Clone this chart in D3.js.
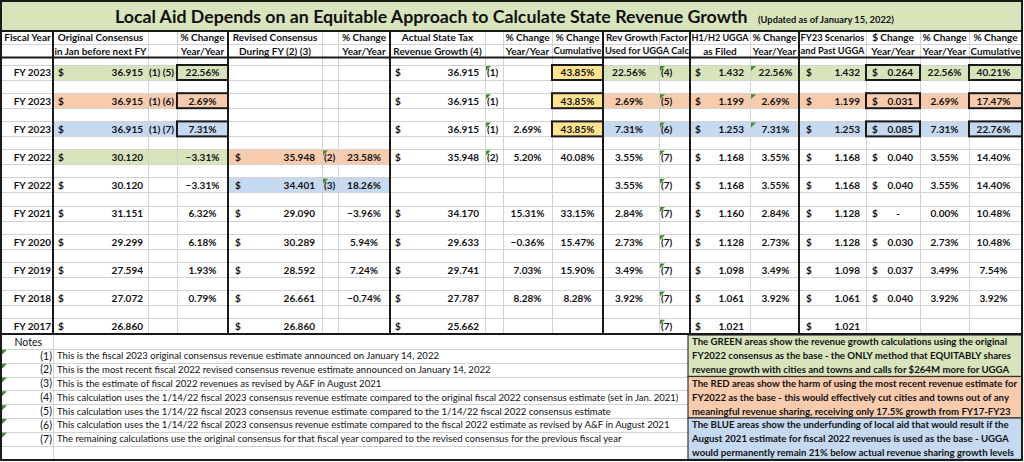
<!DOCTYPE html>
<html><head><meta charset="utf-8">
<script src="https://cdn.jsdelivr.net/npm/d3@7"></script>
<style>
body{margin:0;background:#fff}
svg{display:block}
text{font-family:Lato,"Open Sans",sans-serif;fill:#111}
</style>
</head><body>
<svg id="c" width="1024" height="462"></svg>
<script>
// ---------------- DATA ----------------
const titleMain = "Local Aid Depends on an Equitable Approach to Calculate State Revenue Growth";
const titleSub = "(Updated as of January 15, 2022)";
const fiscalYears = ["FY 2023","FY 2023","FY 2023","FY 2022","FY 2022","FY 2021","FY 2020","FY 2019","FY 2018","FY 2017"];
const origConsensus = [36.915,36.915,36.915,30.120,30.120,31.151,29.299,27.594,27.072,26.860];
const origNotes = ["(1) (5)","(1) (6)","(1) (7)","","","","","","",""];
const origChange = [22.56,2.69,7.31,-3.31,-3.31,6.32,6.18,1.93,0.79,null];
const revisedConsensus = [null,null,null,35.948,34.401,29.090,30.289,28.592,26.661,26.860];
const revisedNotes = ["","","","(2)","(3)","","","","",""];
const revisedChange = [null,null,null,23.58,18.26,-3.96,5.94,7.24,-0.74,null];
const actualRevenue = [36.915,36.915,36.915,35.948,null,34.170,29.633,29.741,27.787,25.662];
const actualNotes = ["(1)","(1)","(1)","(2)","","","","","",""];
const actualYoY = [null,null,2.69,5.20,null,15.31,-0.36,7.03,8.28,null];
const actualCum = [43.85,43.85,43.85,40.08,null,33.15,15.47,15.90,8.28,null];
const revGrowthFactor = [22.56,2.69,7.31,3.55,3.55,2.84,2.73,3.49,3.92,null];
const revGrowthNotes = ["(4)","(5)","(6)","(7)","(7)","(7)","(7)","(7)","(7)","(7)"];
const uggaFiled = [1.432,1.199,1.253,1.168,1.168,1.160,1.128,1.098,1.061,1.021];
const uggaChange = [22.56,2.69,7.31,3.55,3.55,2.84,2.73,3.49,3.92,null];
const fy23Ugga = [1.432,1.199,1.253,1.168,1.168,1.128,1.128,1.098,1.061,1.021];
const dollarChange = [0.264,0.031,0.085,0.040,0.040,0,0.030,0.037,0.040,null];
const fy23Change = [22.56,2.69,7.31,3.55,3.55,0.00,2.73,3.49,3.92,null];
const fy23Cum = [40.21,17.47,22.76,14.40,14.40,10.48,10.48,7.54,3.92,null];
// scenario tags (which colour story each row belongs to)
const origScenario = ["GREEN","RED","BLUE","GREEN",null,null,null,null,null,null];
const revisedScenario = [null,null,null,"RED","BLUE",null,null,null,null,null];
const rightScenario = ["GREEN","RED","BLUE",null,null,null,null,null,null,null];
const scenarios = ["GREEN","RED","BLUE"];
const headers = [
  ["fy","Fiscal Year",""],
  ["oc","Original Consensus","in Jan before next FY"],
  ["ocp","% Change","Year/Year"],
  ["rc","Revised Consensus","During FY (2) (3)"],
  ["rcp","% Change","Year/Year"],
  ["ac","Actual State Tax","Revenue Growth (4)"],
  ["acy","% Change","Year/Year"],
  ["acc","% Change","Cumulative"],
  ["rg","Rev Growth Factor","Used for UGGA Calc"],
  ["ug","H1/H2 UGGA","as Filed"],
  ["ugp","% Change","Year/Year"],
  ["f23","FY23 Scenarios","and Past UGGA"],
  ["dc","$ Change","Year/Year"],
  ["fp","% Change","Year/Year"],
  ["fc","% Change","Cumulative"]
];
const noteLabels = ["(1)","(2)","(3)","(4)","(5)","(6)","(7)"];
const noteTexts = [
  "This is the fiscal 2023 original consensus revenue estimate announced on January 14, 2022",
  "This is the most recent fiscal 2022 revised consensus revenue estimate announced on January 14, 2022",
  "This is the estimate of fiscal 2022 revenues as revised by A&F in August 2021",
  "This calculation uses the 1/14/22 fiscal 2023 consensus revenue estimate compared to the original fiscal 2022 consensus estimate (set in Jan. 2021)",
  "This calculation uses the 1/14/22 fiscal 2023 consensus revenue estimate compared to the 1/14/22 fiscal 2022 consensus estimate",
  "This calculation uses the 1/14/22 fiscal 2023 consensus revenue estimate compared to the fiscal 2022 estimate as revised by A&F in August 2021",
  "The remaining calculations use the original consensus for that fiscal year compared to the revised consensus for the previous fiscal year"
];
const boxTexts = [
  ["The GREEN areas show the revenue growth calculations using the original","FY2022 consensus as the base - the ONLY method that EQUITABLY shares","revenue growth with cities and towns and calls for $264M more for UGGA"],
  ["The RED areas show the harm of using the most recent revenue estimate for","FY2022 as the base - this would effectively cut cities and towns out of any","meaningful revenue sharing, receiving only 17.5% growth from FY17-FY23"],
  ["The BLUE areas show the underfunding of local aid that would result if the","August 2021 estimate for fiscal 2022 revenues is used as the base - UGGA","would permanently remain 21% below actual revenue sharing growth levels"]
];

// ---------------- LAYOUT ----------------
const W = 1024, H = 462;
const colKeys = ["fy","oc","ocn","ocp","rc","rcn","rcp","ac","acn","acy","acc","rg","rgn","ug","ugp","f23","dc","fp","fc"];
const colEdges = [2,53,148,177,228,322,338,390,485,503,552,603,659,690,750,799,866,920,969,1022];
const x0 = d3.scaleOrdinal().domain(colKeys).range(colEdges.slice(0,-1));
const x1 = d3.scaleOrdinal().domain(colKeys).range(colEdges.slice(1));
const thickKeys = ["oc","rc","ac","rg","ug","f23"];
const headerSpan = {fy:["fy","fy"],oc:["oc","oc"],ocp:["ocp","ocp"],rc:["rc","rc"],rcp:["rcp","rcp"],ac:["ac","ac"],acy:["acy","acy"],acc:["acc","acc"],rg:["rg","rgn"],ug:["ug","ug"],ugp:["ugp","ugp"],f23:["f23","f23"],dc:["dc","dc"],fp:["fp","fp"],fc:["fc","fc"]};

const rows = d3.range(fiscalYears.length);
const y = d3.scaleBand().domain(rows).range([59, 341]);
const cellTop = i => y(i) + 6, cellH = 15, cy = i => y(i) + 13.7;
const noteY = d3.scaleBand().domain(d3.range(9)).range([335, 459.5]);
const color = d3.scaleOrdinal().domain(scenarios).range(["#d8e4bc","#f8cbad","#c5d9f1"]);
const yellow = "#ffe38f";
const fmt3 = d3.format(".3f");
const fmtP = v => d3.format(".2f")(v) + "%";

const svg = d3.select("#c");
svg.append("rect").attr("width",W).attr("height",H).attr("fill","#fff");

// title band
svg.append("rect").attr("x",1).attr("y",1).attr("width",1021).attr("height",30).attr("fill","#d8e4bc");

// fills
const gFill = svg.append("g");
function fillCells(scen, k0, k1) {
  gFill.selectAll(null).data(rows.filter(i => scen[i])).join("rect")
    .attr("x", i => x0(k0)).attr("width", i => x1(k1) - x0(k0))
    .attr("y", cellTop).attr("height", cellH)
    .attr("fill", i => color(scen[i]));
}
fillCells(origScenario, "oc", "ocp");
fillCells(revisedScenario, "rc", "rcp");
fillCells(rightScenario, "rg", "fc");
const fy23Rows = rows.filter(i => fiscalYears[i] === "FY 2023");
gFill.selectAll(null).data(fy23Rows).join("rect")
  .attr("x", x0("acc")).attr("width", x1("acc")-x0("acc"))
  .attr("y", cellTop).attr("height", cellH).attr("fill", yellow);

// gridlines
const grid = svg.append("g").attr("stroke","#d2d2d2").attr("stroke-width",1).attr("shape-rendering","crispEdges");
const hLines = [];
rows.forEach(i => { hLines.push(cellTop(i)); hLines.push(cellTop(i)+cellH); });
grid.selectAll(null).data(hLines).join("line")
  .attr("x1",2).attr("x2",1021).attr("y1",d=>d).attr("y2",d=>d);
grid.append("line").attr("x1",2).attr("x2",1021).attr("y1",44).attr("y2",44);
grid.selectAll(null).data(colKeys.slice(1)).join("line")
  .attr("x1",k=>x0(k)+0.5).attr("x2",k=>x0(k)+0.5).attr("y1",31).attr("y2",334);
// notes grid
grid.selectAll(null).data(d3.range(1,9)).join("line")
  .attr("x1",2).attr("x2",688).attr("y1",d=>Math.round(noteY(d))+0.5).attr("y2",d=>Math.round(noteY(d))+0.5);
grid.append("line").attr("x1",53.5).attr("x2",53.5).attr("y1",334).attr("y2",460);

// note boxes
svg.selectAll(null).data(boxTexts).join("rect")
  .attr("x",688).attr("width",334)
  .attr("y",(d,k)=>noteY(k*3)).attr("height",noteY.step()*3)
  .attr("fill",(d,k)=>color(scenarios[k])).attr("stroke","#333").attr("stroke-width",1.2);

// thick structural lines
const thick = svg.append("g").attr("stroke","#1a1a1a").attr("stroke-width",2).attr("fill","none");
thick.selectAll(null).data(thickKeys).join("line")
  .attr("x1",k=>x0(k)).attr("x2",k=>x0(k)).attr("y1",31).attr("y2",334);
[31,57.5,334].forEach(v => thick.append("line").attr("x1",1).attr("x2",1022).attr("y1",v).attr("y2",v));
thick.append("rect").attr("x",1).attr("y",1).attr("width",1021).attr("height",459);

// boxed cells for FY2023 scenarios
const boxKeys = ["ocp","acc","dc","fc"];
boxKeys.forEach(k => {
  thick.selectAll(null).data(fy23Rows).join("rect")
    .attr("x", x0(k)).attr("width", x1(k)-x0(k))
    .attr("y", cellTop).attr("height", cellH);
});

// ---------------- TEXT ----------------
const T = svg.append("g");
function txt(x, yy, s, anchor, opt={}) {
  return T.append("text").attr("x",x).attr("y",yy).attr("dy","0.36em")
    .attr("text-anchor",anchor||"start")
    .attr("font-size",opt.size||10).attr("font-weight",opt.weight||"bold").text(s);
}
// shrink the font size so the text fits a width
function fitTo(sel, width){
  const w = sel.node().getComputedTextLength();
  if (w > width) sel.attr("font-size", (+sel.attr("font-size")) * width / w);
  return sel;
}
function sizeTo(sel, width){
  const w = sel.node().getComputedTextLength();
  sel.attr("font-size", (+sel.attr("font-size")) * width / w);
  return sel;
}

// title
sizeTo(txt(115, 17, titleMain, "start", {size:20}), 633);
sizeTo(txt(758, 19.5, titleSub, "start", {size:9.5}), 136);

// headers
headers.forEach(([k,l1,l2]) => {
  const [a,b] = headerSpan[k];
  let cx = (x0(a)+x1(b))/2;
  if (k === "rg") {
    fitTo(txt(606, 37.5, l1, "start"), 82);
    fitTo(txt(605, 51, l2, "start"), 84);
    return;
  }
  const w = x1(b)-x0(a)-3;
  fitTo(txt(cx, 37.5, l1, "middle"), w);
  if (l2) fitTo(txt(cx, 51, l2, "middle"), w);
});

// data
rows.forEach(i => {
  const c = cy(i);
  txt(x1("fy")-2, c, fiscalYears[i], "end");
  // original
  txt(x0("oc")+5, c, "$", "start"); txt(x1("oc")-5, c, fmt3(origConsensus[i]), "end");
  if (origNotes[i]) fitTo(txt(x0("ocn")+1, c, origNotes[i], "start"), 28);
  if (origChange[i]!=null) txt((x0("ocp")+x1("ocp"))/2, c, fmtP(origChange[i]), "middle");
  // revised
  if (revisedConsensus[i]!=null){ txt(x0("rc")+7, c, "$", "start"); txt(x1("rc")-7, c, fmt3(revisedConsensus[i]), "end"); }
  if (revisedNotes[i]) txt(x0("rcn")+2, c, revisedNotes[i], "start");
  if (revisedChange[i]!=null) txt((x0("rcp")+x1("rcp"))/2, c, fmtP(revisedChange[i]), "middle");
  // actual
  if (actualRevenue[i]!=null){ txt(x0("ac")+5, c, "$", "start"); txt(x1("ac")-6, c, fmt3(actualRevenue[i]), "end"); }
  if (actualNotes[i]) txt(x0("acn")+2, c, actualNotes[i], "start");
  if (actualYoY[i]!=null) txt((x0("acy")+x1("acy"))/2, c, fmtP(actualYoY[i]), "middle");
  if (actualCum[i]!=null) txt((x0("acc")+x1("acc"))/2, c, fmtP(actualCum[i]), "middle");
  // rev growth
  if (revGrowthFactor[i]!=null) txt(x0("rg")+26, c, fmtP(revGrowthFactor[i]), "middle");
  if (revGrowthNotes[i]) txt(x0("rgn")+2, c, revGrowthNotes[i], "start");
  // UGGA
  txt(x0("ug")+5, c, "$", "start"); txt(x1("ug")-6, c, fmt3(uggaFiled[i]), "end");
  if (uggaChange[i]!=null) txt((x0("ugp")+x1("ugp"))/2+1, c, fmtP(uggaChange[i]), "middle");
  txt(x0("f23")+7, c, "$", "start"); txt(x1("f23")-6, c, fmt3(fy23Ugga[i]), "end");
  if (dollarChange[i]!=null){
    txt(x0("dc")+6, c, "$", "start");
    txt(dollarChange[i]===0 ? x1("dc")-20 : x1("dc")-7, c, dollarChange[i]===0 ? "-" : fmt3(dollarChange[i]), "end");
  }
  if (fy23Change[i]!=null) txt((x0("fp")+x1("fp"))/2, c, fmtP(fy23Change[i]), "middle");
  if (fy23Cum[i]!=null) txt((x0("fc")+x1("fc"))/2-2, c, fmtP(fy23Cum[i]), "middle");
});

// comment triangles
const tri = [];
rows.forEach(i => {
  if (actualNotes[i]) tri.push([x0("acn"), cellTop(i)]);
  if (revGrowthNotes[i]) tri.push([x0("rgn"), cellTop(i)]);
  if (revisedNotes[i]) tri.push([x0("rcn"), cellTop(i)]);
  if (rightScenario[i]) tri.push([x0("ugp"), cellTop(i)]);
});
noteLabels.forEach((d,k) => tri.push([1, noteY(k+1)]));
svg.append("g").selectAll("path").data(tri).join("path")
  .attr("d", d => `M${d[0]+1},${d[1]+1}h5l-5,5z`).attr("fill","#3f8f2f");

// notes
txt(42, noteY(0)+noteY.step()/2, "Notes", "end", {weight:"normal", size:10.5});
const noteSel = noteTexts.map((s,k) => {
  const yy = noteY(k+1)+noteY.step()/2;
  txt(52, yy, noteLabels[k], "end", {weight:"normal", size:10.5});
  return txt(57, yy, s, "start", {weight:"normal", size:10.5});
});
const nf = 622 / noteSel[3].node().getComputedTextLength();
noteSel.forEach(s => s.attr("font-size", 10.5*nf));

const boxSel = [];
boxTexts.forEach((lines,k) => lines.forEach((s,j) => {
  boxSel.push(txt(692, noteY(k*3+j)+noteY.step()/2, s, "start", {size:10}));
}));
const bw = d3.max(boxSel, s => s.node().getComputedTextLength());
const bf = 326 / bw;
boxSel.forEach(s => s.attr("font-size", 10*bf));
</script>
</body></html>
